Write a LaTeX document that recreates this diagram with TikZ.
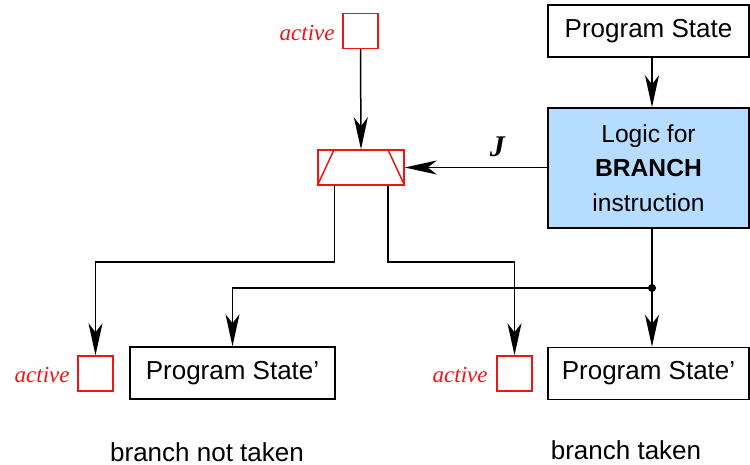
\documentclass[tikz,border=0pt]{standalone}
\usepackage{fontspec}
\setmainfont{Liberation Serif}
\setsansfont{Liberation Sans}
\usetikzlibrary{arrows.meta,calc}
\definecolor{logicblue}{RGB}{182,220,255}
\definecolor{ctlred}{RGB}{240,20,20}
\tikzset{
  base/.style={line width=0.75pt},
  arr/.style={base,-{Stealth[length=16pt,width=7pt,inset=4.5pt]}},
  statebox/.style={draw,base,rectangle,inner sep=0pt,minimum width=100.5pt,minimum height=26pt,
    font=\sffamily\fontsize{13}{15}\selectfont},
  logicbox/.style={draw,base,rectangle,fill=logicblue,inner sep=0pt,minimum width=100.5pt,minimum height=60pt,
    align=center,font=\sffamily\fontsize{12.3}{17.3}\selectfont},
  actbox/.style={draw=ctlred,base,rectangle,inner sep=0pt,minimum size=17.5pt},
  actlabel/.style={text=ctlred,inner sep=0pt,font=\itshape\fontsize{11.5}{13}\selectfont},
  muxbox/.style={draw=ctlred,base,rectangle,inner sep=0pt,minimum width=43pt,minimum height=17.5pt},
  caption/.style={inner sep=0pt,font=\sffamily\fontsize{13}{15}\selectfont},
}
\begin{document}
\begin{tikzpicture}[x=0.5pt,y=-0.5pt]
\useasboundingbox (0,0) rectangle (750,465);

% instruction logic column
\node[statebox] (ps) at (648.5,31) {Program State};
\node[logicbox] (logic) at (648.5,168) {Logic for\\\textbf{BRANCH}\\instruction};

% selector driven by the active flag
\node[actbox] (actT) at (360.5,31) {};
\node[actlabel,anchor=east] (actTl) at (335,33) {active};
\node[muxbox] (mux) at (361,167.5) {};
\draw[ctlred,base] ($(mux.north west)+(17,0)$) -- (mux.south west)
                   ($(mux.north east)+(-17,0)$) -- (mux.south east);

% successor states
\node[actbox] (actL) at (95.5,373.5) {};
\node[actlabel,anchor=east] (actLl) at (70,375) {active};
\node[statebox,minimum width=102.5pt] (psL) at (232.5,373) {Program State'};
\node[actbox] (actR) at (514.5,373.5) {};
\node[actlabel,anchor=east] (actRl) at (488,375) {active};
\node[statebox] (psR) at (648.5,373.5) {Program State'};

\node[caption] (capL) at (207,452) {branch not taken};
\node[caption] (capR) at (626,450) {branch taken};

% routing points
\coordinate (bus) at (0,262);
\coordinate (jn) at (652,288);
\coordinate (m1) at ($(mux.south west)+(17,0)$);
\coordinate (m2) at ($(mux.south east)+(-17,0)$);

% connectors
\draw[arr] (ps.south -| jn) -- (logic.north -| jn);
\draw[arr] (actT.south) -- (mux.north);
\draw[arr] (logic.west |- mux.east) -- (mux.east)
  node[pos=0.35,above=5pt,inner sep=0pt,font=\bfseries\itshape\fontsize{15}{17}\selectfont] {J};
\draw[base] (logic.south -| jn) -- (jn);
\fill (jn) circle (4);
\draw[arr] (jn) -- (psR.north -| jn);
\draw[arr] (jn) -| (psL.north);
\draw[arr] (m1) -- (m1 |- bus) -| (actL.north);
\draw[arr] (m2) -- (m2 |- bus) -| (actR.north);
\end{tikzpicture}
\end{document}
